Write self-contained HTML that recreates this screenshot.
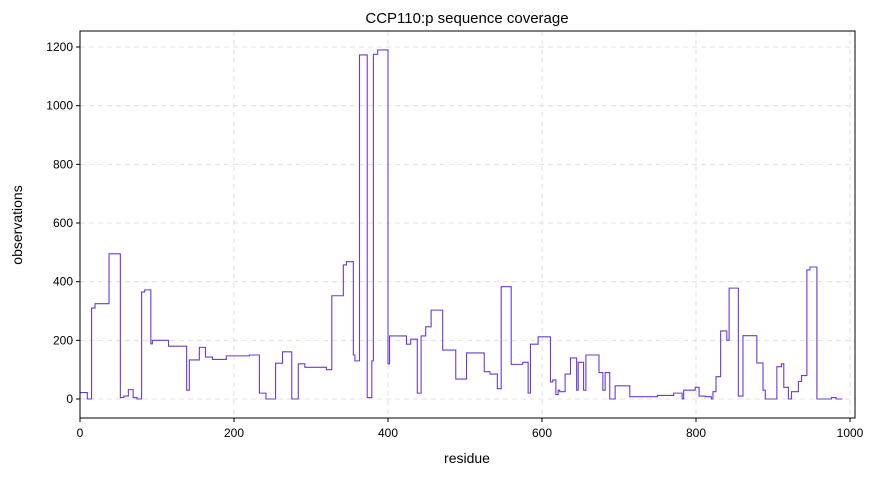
<!DOCTYPE html>
<html><head><meta charset="utf-8">
<style>
body{margin:0;background:#fff;font-family:"Liberation Sans",sans-serif;}
svg text{font-family:"Liberation Sans",sans-serif;fill:#000;}
</style></head>
<body>
<svg id="chart" width="875" height="476" xmlns="http://www.w3.org/2000/svg">
<text x="467" y="23" font-size="15" text-anchor="middle">CCP110:p sequence coverage</text>
<g id="grid"></g>
<g id="ticks"></g>
<path id="line" fill="none" stroke="#6a3bd8" stroke-width="1.1"></path>
<rect x="80" y="31" width="775" height="387" fill="none" stroke="#000" stroke-width="1"></rect>
<text x="467" y="463" font-size="14" text-anchor="middle">residue</text>
<text x="22" y="225" font-size="14" text-anchor="middle" transform="rotate(-90 22 225)">observations</text>
</svg>
<script>
const residues=[0,9.5,15,19.5,37.7,52.4,57,62.8,69,74,
80,84,92,94,115,138.5,142,155,163,172,
190,220,233,241.5,254,263,275,283.5,292,320,
327,342,346,355,357,363,373,379,381,386.6,
400,402,424,426.6,429.5,438,443,449,456,471,
488,502,525,532.5,542,547,560,575,582,585,
595,611,614,618,621,623,630,637,645,647,
654,657,674,679,682,688,695,714,750,771,
782,784,799,804,812,820,822,826,832,840,
843,855,861,879,887,890,905,911,914,920,
924,933,937,944,948,957,976,982,990];
const values=[22,0,310,325,495,5,10,32,5,0,
365,372,188,200,180,30,133,176,143,135,
147,150,20,0,122,161,0,120,108,100,
352,457,468,150,130,1173,5,130,1175,1190,
120,215,187,187,204,20,215,246,303,167,
68,157,93,85,35,383,118,125,20,187,
212,58,65,15,30,25,85,140,30,125,
30,150,90,30,90,0,45,8,12,20,
0,30,40,10,8,0,25,76,232,200,
378,10,216,123,30,0,110,120,40,0,
25,60,80,440,450,0,5,0,0];
const xTicks=[0,200,400,600,800,1000];
const yTicks=[0,200,400,600,800,1000,1200];
const X=v=>80+v*0.77;
const Y=v=>399-v*0.29333;
const ns="http://www.w3.org/2000/svg";
const grid=document.getElementById('grid'),ticks=document.getElementById('ticks');
function mk(tag,attrs,parent){const e=document.createElementNS(ns,tag);for(const k in attrs)e.setAttribute(k,attrs[k]);parent.appendChild(e);return e;}
xTicks.forEach(t=>{
 const g=mk('line',{x1:X(t),x2:X(t),y1:31,y2:418,stroke:'#e0e0e0','stroke-dasharray':'5,4'},grid);
 
 
 const tk=mk('line',{x1:X(t),x2:X(t),y1:418,y2:422,stroke:'#000'},ticks);
 
 
 const tx=mk('text',{x:X(t),y:437,'font-size':12,'text-anchor':'middle'},ticks);
 tx.textContent=t;
 
 
});
yTicks.forEach(t=>{
 const g=mk('line',{x1:80,x2:855,y1:Y(t),y2:Y(t),stroke:'#e0e0e0','stroke-dasharray':'5,4'},grid);
 
 
 const tk=mk('line',{x1:76,x2:80,y1:Y(t),y2:Y(t),stroke:'#000'},ticks);
 
 
 const tx=mk('text',{x:73,y:Y(t)+4,'font-size':12,'text-anchor':'end'},ticks);
 tx.textContent=t;
 
 
});
let d='';
const n=Math.min(residues.length,values.length);
for(let i=0;i<n;i++){
 const x=X(residues[i]),y=Y(values[i]);
 if(i===0)d+='M'+x+','+y;
 else d+='L'+x+','+Y(values[i-1])+'L'+x+','+y;
}
document.getElementById('line').setAttribute('d',d);
</script>
</body></html>
